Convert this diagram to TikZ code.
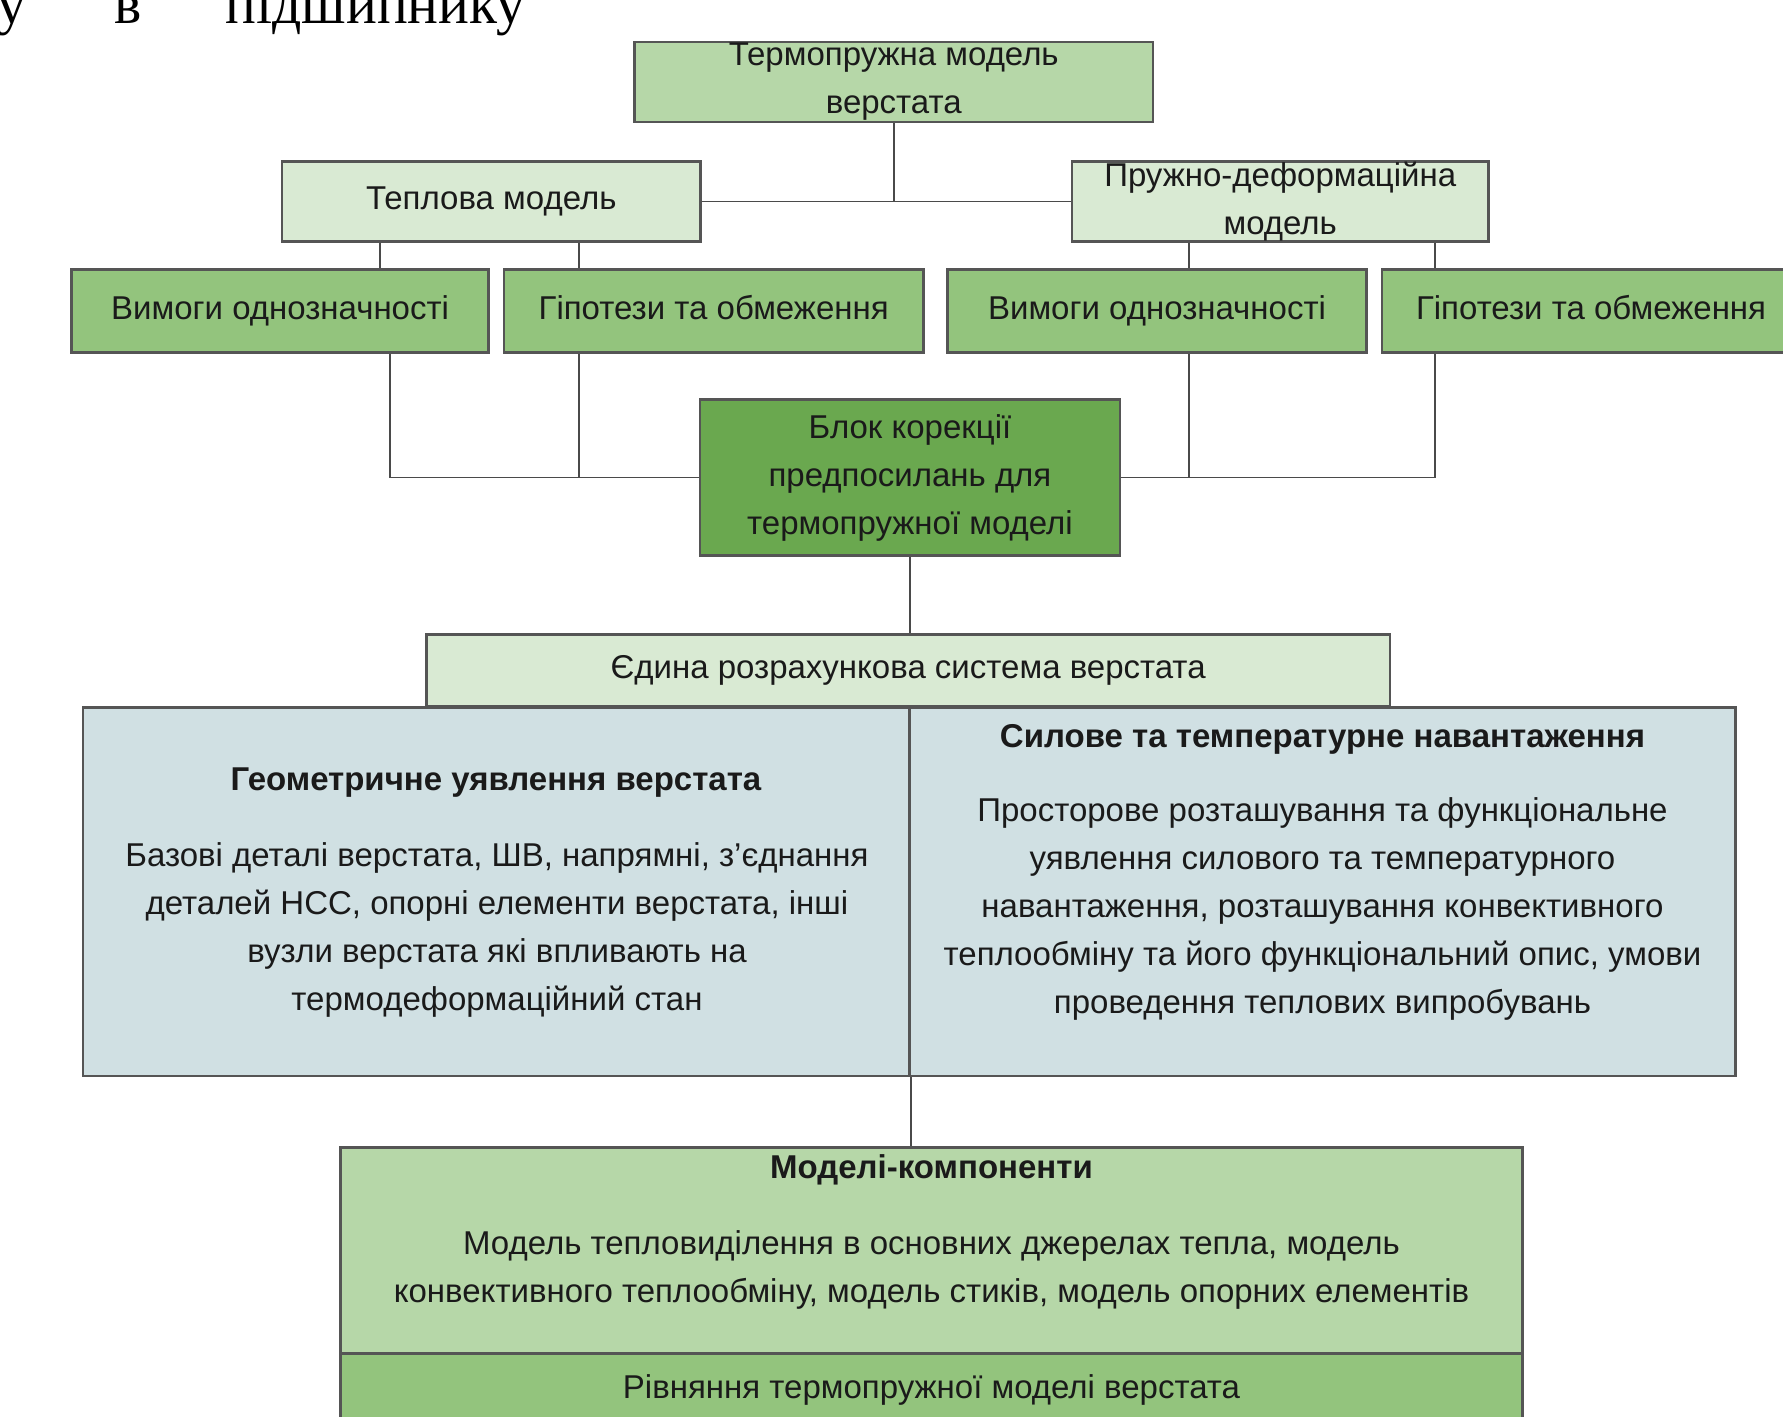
\documentclass[tikz,border=0pt]{standalone}
\usepackage{fontspec}
\setmainfont{Liberation Sans}
\newfontfamily\serifface{Liberation Serif}
\definecolor{gA}{HTML}{B6D7A8}
\definecolor{gB}{HTML}{D9EAD3}
\definecolor{gC}{HTML}{93C47D}
\definecolor{gD}{HTML}{6AA84F}
\definecolor{bl}{HTML}{D0E0E3}
\definecolor{edgec}{HTML}{555555}
\definecolor{wirec}{HTML}{4A4A4A}
\definecolor{ink}{HTML}{1A1A1A}

\begin{document}
\begin{tikzpicture}[x=0.5pt,y=-0.5pt,
  boxnode/.style={draw=edgec, line width=1.4pt, inner sep=0pt, align=center,
    text=ink, font=\fontsize{16.5}{24}\selectfont},
  oneline/.style={text height=11.8pt, text depth=3.5pt},
  txt/.style={inner sep=0pt, align=center, text=ink, font=\fontsize{16.5}{24}\selectfont},
  ttl/.style={inner sep=0pt, align=center, text=ink, font=\fontsize{16.5}{24}\selectfont\bfseries},
  wire/.style={draw=wirec, line width=0.9pt}]

% page
\clip (0,0) rectangle (1783,1417);
\fill[white] (0,0) rectangle (1783,1417);

% running text line above the scheme
\node[font=\serifface\fontsize{28.8}{30}\selectfont, inner sep=0pt, anchor=base west, text=black]
  (head) at (-3,23.3) {\makebox[58.5pt][l]{у}\makebox[55.7pt][l]{в}підшипнику};

% level 1
\node[boxnode, fill=gA, minimum width=259.25pt, minimum height=40pt] (top) at (893.75,82)
  {Термопружна модель\\верстата};

% level 2
\node[boxnode, oneline, fill=gB, minimum width=209.25pt, minimum height=40pt] (tep) at (491.25,201.5)
  {Теплова модель};
\node[boxnode, fill=gB, minimum width=208.25pt, minimum height=40pt] (pru) at (1280.25,201.5)
  {Пружно-деформаційна\\модель};

% level 3
\node[boxnode, oneline, fill=gC, minimum width=208.4pt, minimum height=41.6pt] (vl) at (280.1,311.1)
  {Вимоги однозначності};
\node[boxnode, oneline, fill=gC, minimum width=209.65pt, minimum height=41.6pt] (hl) at (713.65,311.1)
  {Гіпотези та обмеження};
\node[boxnode, oneline, fill=gC, minimum width=209.5pt, minimum height=41.6pt] (vr) at (1157,311.1)
  {Вимоги однозначності};
\node[boxnode, oneline, fill=gC, minimum width=209pt, minimum height=41.6pt] (hr) at (1591,311.1)
  {Гіпотези та обмеження};

% correction block
\node[boxnode, fill=gD, minimum width=210pt, minimum height=78pt] (blok) at (910,477.5)
  {Блок корекції\\предпосилань для\\термопружної моделі};

% unified system
\node[boxnode, oneline, fill=gB, minimum width=481.85pt, minimum height=36pt] (edyna) at (908.15,670.5)
  {Єдина розрахункова система верстата};

\node[boxnode, fill=bl, minimum width=413.25pt, minimum height=184.35pt] (geo) at (496.25,891.65) {};
\node[boxnode, fill=bl, minimum width=413pt, minimum height=184.35pt] (sil) at (1322.5,891.65) {};

\node[ttl] (geoT) at (496,783) {Геометричне уявлення верстата};
\node[txt] (geoB) at (497,930)
  {Базові деталі верстата, ШВ, напрямні, з’єднання\\
   деталей НСС, опорні елементи верстата, інші\\
   вузли верстата які впливають на\\
   термодеформаційний стан};

\node[ttl] (silT) at (1322.5,739) {Силове та температурне навантаження};
\node[txt] (silB) at (1322.5,909)
  {Просторове розташування та функціональне\\
   уявлення силового та температурного\\
   навантаження, розташування конвективного\\
   теплообміну та його функціональний опис, умови\\
   проведення теплових випробувань};

% component models and equations
\node[boxnode, fill=gA, minimum width=591pt, minimum height=102.9pt] (mod) at (931.5,1250.4) {};
\node[ttl] (modT) at (931.5,1170) {Моделі-компоненти};
\node[txt] (modB) at (931.5,1270)
  {Модель тепловиділення в основних джерелах тепла, модель\\
   конвективного теплообміну, модель стиків, модель опорних елементів};
\node[boxnode, fill=gC, minimum width=591pt, minimum height=43.35pt] (riv) at (931.5,1396.65) {};
\node[txt, oneline] (rivT) at (931.5,1390) {Рівняння термопружної моделі верстата};

% connector columns
\coordinate (xa) at (380,0);
\coordinate (xb) at (579,0);
\coordinate (xc) at (1189,0);
\coordinate (xd) at (1435,0);
\coordinate (xe) at (390,0);

% connectors
\draw[wire] (top.south) -- (top.south |- tep.east);
\draw[wire] (tep.east) -- (pru.west);
\draw[wire] (tep.south -| xa) -- (vl.north -| xa);
\draw[wire] (tep.south -| xb) -- (hl.north -| xb);
\draw[wire] (pru.south -| xc) -- (vr.north -| xc);
\draw[wire] (pru.south -| xd) -- (hr.north -| xd);
\draw[wire] (vl.south -| xe) -- (xe |- blok.west) -- (blok.west);
\draw[wire] (hl.south -| xb) -- (xb |- blok.west);
\draw[wire] (blok.east) -- (xd |- blok.east) -- (hr.south -| xd);
\draw[wire] (vr.south -| xc) -- (xc |- blok.east);
\draw[wire] (blok.south) -- (edyna.north -| blok.south);
\draw[wire] (geo.south east) -- (mod.north -| geo.south east);
\end{tikzpicture}
\end{document}
